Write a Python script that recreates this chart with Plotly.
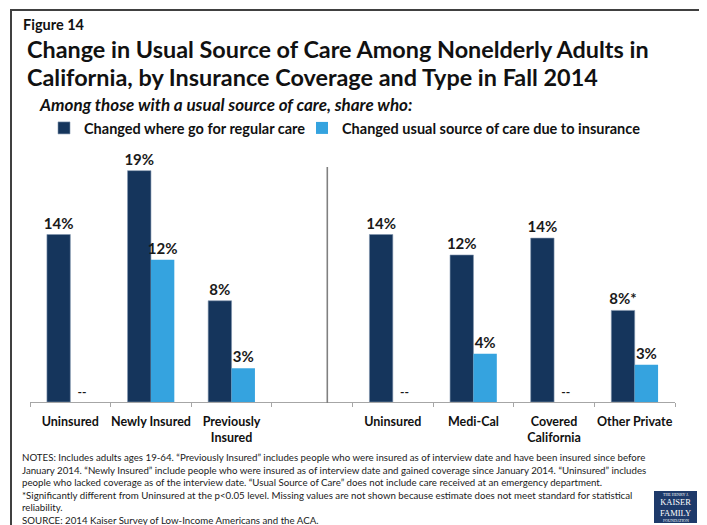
import plotly.graph_objects as go

# ---------------- data ----------------
categories = ["Uninsured", "Newly Insured", "Previously<br>Insured", "",
              "Uninsured", "Medi-Cal", "Covered<br>California", "Other Private"]
series_names = ["Changed where go for regular care",
                "Changed usual source of care due to insurance"]
changed_where = [13.9, 19.2, 8.4, None, 13.9, 12.2, 13.6, 7.6]
changed_where_labels = ["14%", "19%", "8%", "", "14%", "12%", "14%", "8%*"]
changed_insurance = [0, 11.8, 2.8, None, 0, 4.0, 0, 3.1]
changed_insurance_labels = ["--", "12%", "3%", "", "--", "4%", "--", "3%"]

DARK = "#15355c"
LIGHT = "#35a3df"
FONT = "Lato"

# ---------------- layout helpers ----------------
# the page body has an 8px margin, so the figure is drawn 8px smaller and
# positions below are given in reference-image pixels, shifted by OFF.
OFF = 8
W, H = 707 - OFF, 525 - OFF
ML, MR, MT, MB = 30 - OFF, 32, 161 - OFF, 123
PW, PH = W - ML - MR, H - MT - MB


def px(x):
    return (x - OFF - ML) / PW


def py(y):
    return (H - MB - (y - OFF)) / PH


xpos = list(range(len(categories)))

fig = go.Figure()
fig.add_trace(go.Bar(
    x=xpos, y=changed_where, name=series_names[0],
    marker=dict(color=DARK, line=dict(color="#7f93ad", width=0.6)),
    text=changed_where_labels, textposition="outside", cliponaxis=False,
    constraintext="none",
    textfont=dict(family=FONT, size=15, color="#1a1a1a", weight="bold"),
    legend="legend", hoverinfo="skip",
))
fig.add_trace(go.Bar(
    x=xpos, y=changed_insurance, name=series_names[1],
    marker=dict(color=LIGHT, line=dict(width=0)),
    text=changed_insurance_labels, textposition="outside", cliponaxis=False,
    constraintext="none",
    textfont=dict(family=FONT, size=[12 if t == "--" else 15 for t in changed_insurance_labels],
                  color="#1a1a1a", weight="bold"),
    legend="legend2", hoverinfo="skip",
))

annotations = [
    dict(text="Figure 14", x=px(21), y=py(24), xanchor="left", yanchor="middle",
         font=dict(family=FONT, size=14.5, color="#111", weight="bold")),
    dict(text="Change in Usual Source of Care Among Nonelderly Adults in",
         x=px(25), y=py(49), xanchor="left", yanchor="middle",
         font=dict(family=FONT, size=23.4, color="#111", weight="bold")),
    dict(text="California, by Insurance Coverage and Type in Fall 2014",
         x=px(25), y=py(77), xanchor="left", yanchor="middle",
         font=dict(family=FONT, size=23.4, color="#111", weight="bold")),
    dict(text="<i>Among those with a usual source of care, share who:</i>",
         x=px(37), y=py(105), xanchor="left", yanchor="middle",
         font=dict(family=FONT, size=17, color="#111", weight="bold")),
    dict(text=("NOTES: Includes adults ages 19-64. \u201cPreviously Insured\u201d includes people who were insured as of interview date and have been insured since before<br>"
               "January 2014. \u201cNewly Insured\u201d include people who were insured as of interview date and gained coverage since January 2014. \u201cUninsured\u201d includes<br>"
               "people who lacked coverage as of the interview date. \u201cUsual Source of Care\u201d does not include care received at an emergency department.<br>"
               "*Significantly different from Uninsured at the p<0.05 level. Missing values are not shown because estimate does not meet standard for statistical<br>"
               "reliability.<br>"
               "SOURCE: 2014 Kaiser Survey of Low-Income Americans and the ACA."),
         x=px(20), y=py(449), xanchor="left", yanchor="top", align="left",
         font=dict(family=FONT, size=9.7, color="#1a1a1a")),
    # logo text
    dict(text="THE HENRY J.", x=px(675.5), y=py(494), xanchor="center", yanchor="middle",
         font=dict(family="Liberation Serif", size=4, color="white")),
    dict(text="KAISER<br>FAMILY", x=px(675.5), y=py(507.5), xanchor="center", yanchor="middle",
         font=dict(family="Liberation Serif", size=8.5, color="white")),
    dict(text="FOUNDATION", x=px(675.5), y=py(520.5), xanchor="center", yanchor="middle",
         font=dict(family="Liberation Serif", size=4, color="white")),
]
for a in annotations:
    a.update(xref="paper", yref="paper", showarrow=False)

shapes = [
    # outer frame
    dict(type="rect", xref="paper", yref="paper", x0=px(11), x1=px(702), y0=py(10), y1=py(540),
         line=dict(color="#404040", width=2), fillcolor="rgba(0,0,0,0)", layer="below"),
    # divider
    dict(type="line", xref="paper", yref="paper", x0=px(327.3), x1=px(327.3), y0=py(167), y1=py(403),
         line=dict(color="#808080", width=1.6)),
    # logo
    dict(type="rect", xref="paper", yref="paper", x0=px(654), x1=px(697), y0=py(491), y1=py(523),
         line=dict(width=0), fillcolor="#1e3a6a"),
]

legend_font = dict(family=FONT, size=14.5, color="#111", weight="bold")
fig.update_layout(
    width=W, height=H,
    margin=dict(l=ML, r=MR, t=MT, b=MB),
    paper_bgcolor="white", plot_bgcolor="white",
    barmode="group", bargap=0.42, bargroupgap=0,
    font=dict(family=FONT, color="#111"),
    showlegend=True,
    legend=dict(x=px(44), y=py(128), xanchor="left", yanchor="middle", orientation="h",
                font=legend_font, bgcolor="rgba(0,0,0,0)", itemwidth=30,
                itemclick=False, itemdoubleclick=False),
    legend2=dict(x=px(302), y=py(128), xanchor="left", yanchor="middle", orientation="h",
                 font=legend_font, bgcolor="rgba(0,0,0,0)", itemwidth=30,
                 itemclick=False, itemdoubleclick=False),
    xaxis=dict(range=[-0.5, 7.5], tickmode="array", tickvals=xpos, ticktext=categories,
               ticks="", showline=True, linecolor="#a6a6a6", linewidth=1.3,
               showgrid=False, zeroline=False, ticklabelstandoff=8,
               tickfont=dict(family=FONT, size=12.5, color="#111", weight="bold"),
               minor=dict(tickvals=[i - 0.5 for i in range(len(categories) + 1)],
                          ticks="outside", ticklen=4, tickcolor="#a6a6a6", tickwidth=1.3,
                          showgrid=False)),
    yaxis=dict(range=[0, 20], visible=False, showgrid=False, zeroline=False),
    annotations=annotations,
    shapes=shapes,
)

fig.write_html("out.html")
